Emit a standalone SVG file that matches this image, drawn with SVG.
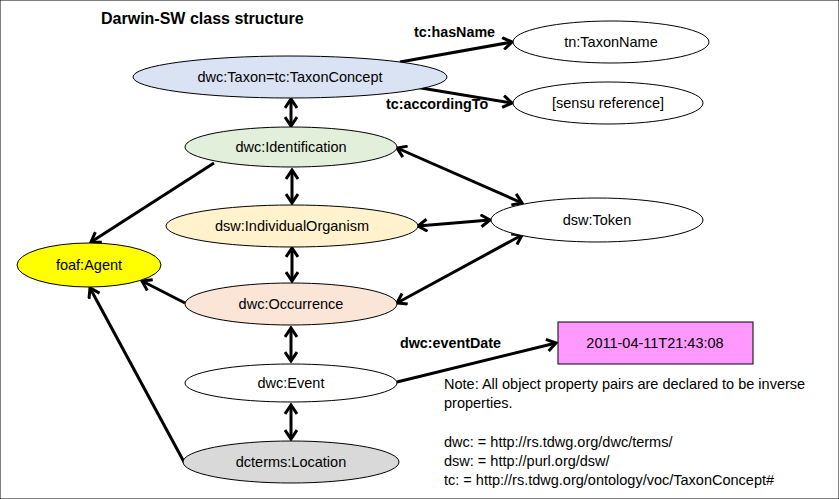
<svg xmlns="http://www.w3.org/2000/svg" width="839" height="499" viewBox="0 0 839 499">
<style>
text{font-family:"Liberation Sans",Arial,sans-serif;fill:#000}
.n{font-size:14.5px;text-anchor:middle;dominant-baseline:central}
.b{font-size:14.3px;font-weight:bold}
.t{font-size:16px;font-weight:bold}
.note{font-size:14.5px}
ellipse,rect{stroke:#000;stroke-width:1}
.c{stroke:#000;stroke-width:3;fill:none}
</style>
<defs>
<marker id="ah" markerUnits="userSpaceOnUse" viewBox="0 0 14 14" markerWidth="14" markerHeight="14" refX="12" refY="7" orient="auto-start-reverse">
<path d="M3,1 L12,7 L3,13" fill="none" stroke="#000" stroke-width="3"/>
</marker>
</defs>
<rect x="0" y="0" width="839" height="499" fill="#fff" stroke="none"/>
<text class="t" x="101" y="24">Darwin-SW class structure</text>

<g id="connectors">
<line class="c" x1="400" y1="62" x2="512" y2="42" marker-end="url(#ah)"/>
<line class="c" x1="403" y1="85" x2="512" y2="103" marker-end="url(#ah)"/>
<line class="c" x1="291" y1="99" x2="291" y2="126" marker-start="url(#ah)" marker-end="url(#ah)"/>
<line class="c" x1="292" y1="170" x2="292" y2="203" marker-start="url(#ah)" marker-end="url(#ah)"/>
<line class="c" x1="292" y1="248" x2="292" y2="281" marker-start="url(#ah)" marker-end="url(#ah)"/>
<line class="c" x1="291" y1="328" x2="291" y2="361" marker-start="url(#ah)" marker-end="url(#ah)"/>
<line class="c" x1="291" y1="405" x2="291" y2="439" marker-start="url(#ah)" marker-end="url(#ah)"/>
<line class="c" x1="214" y1="163" x2="91" y2="242" marker-end="url(#ah)"/>
<line class="c" x1="185" y1="303" x2="142" y2="281" marker-end="url(#ah)"/>
<line class="c" x1="184" y1="462" x2="90" y2="288" marker-end="url(#ah)"/>
<line class="c" x1="397" y1="148" x2="522" y2="203" marker-start="url(#ah)" marker-end="url(#ah)"/>
<line class="c" x1="418" y1="226" x2="490" y2="220" marker-start="url(#ah)" marker-end="url(#ah)"/>
<line class="c" x1="397" y1="303" x2="522" y2="235" marker-start="url(#ah)" marker-end="url(#ah)"/>
<line class="c" x1="397" y1="382" x2="556" y2="343" marker-end="url(#ah)"/>
<text class="b" x="414" y="37">tc:hasName</text>
<text class="b" x="386" y="109">tc:accordingTo</text>
<text class="b" x="400" y="348">dwc:eventDate</text>
</g>

<g id="taxon"><ellipse cx="290" cy="77" rx="157" ry="21" fill="#dae3f3"/><text class="n" x="290" y="77">dwc:Taxon=tc:TaxonConcept</text></g>
<g id="taxonName"><ellipse cx="611" cy="42" rx="98" ry="21" fill="#fff"/><text class="n" x="611" y="42">tn:TaxonName</text></g>
<g id="sensu"><ellipse cx="608" cy="103" rx="95" ry="21" fill="#fff"/><text class="n" x="608" y="103">[sensu reference]</text></g>
<g id="identification"><ellipse cx="291" cy="147" rx="106" ry="20" fill="#e2efda"/><text class="n" x="291" y="147">dwc:Identification</text></g>
<g id="organism"><ellipse cx="292" cy="226" rx="126" ry="21" fill="#fff2cc"/><text class="n" x="292" y="226">dsw:IndividualOrganism</text></g>
<g id="agent"><ellipse cx="89" cy="265" rx="72" ry="22" fill="#ffff00"/><text class="n" x="89" y="265">foaf:Agent</text></g>
<g id="occurrence"><ellipse cx="291" cy="304" rx="106" ry="21" fill="#fbe5d6"/><text class="n" x="291" y="304">dwc:Occurrence</text></g>
<g id="token"><ellipse cx="597" cy="220" rx="106" ry="22" fill="#fff"/><text class="n" x="597" y="220">dsw:Token</text></g>
<g id="event"><ellipse cx="291" cy="383" rx="106" ry="19" fill="#fff"/><text class="n" x="291" y="383">dwc:Event</text></g>
<g id="location"><ellipse cx="291" cy="462" rx="108" ry="21" fill="#d9d9d9"/><text class="n" x="291" y="462">dcterms:Location</text></g>
<g id="date"><rect x="558" y="322" width="195" height="42" fill="#ff99ff"/><text class="n" x="655" y="343">2011-04-11T21:43:08</text></g>

<g id="note">
<text class="note" x="444" y="389">Note: All object property pairs are declared to be inverse</text>
<text class="note" x="444" y="408">properties.</text>
<text class="note" x="444" y="447">dwc: = http://rs.tdwg.org/dwc/terms/</text>
<text class="note" x="444" y="466">dsw: = http://purl.org/dsw/</text>
<text class="note" x="444" y="485">tc: = http://rs.tdwg.org/ontology/voc/TaxonConcept#</text>
</g>
</svg>
